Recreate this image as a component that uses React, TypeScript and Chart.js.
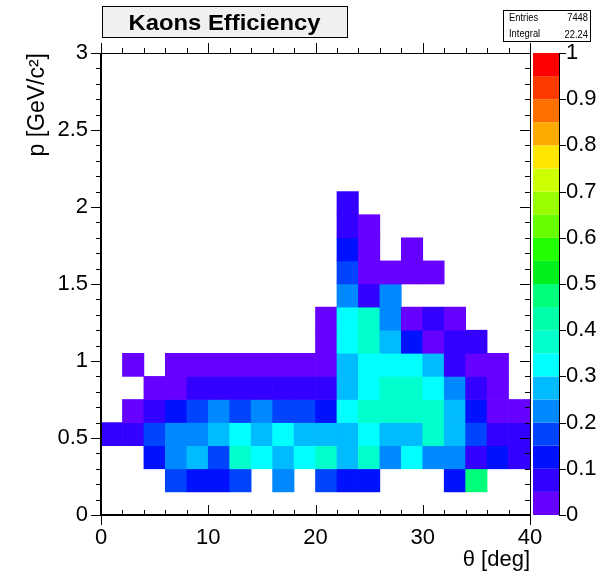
import React, { useEffect, useRef } from "react";
import { Chart, registerables } from "chart.js";
Chart.register(...registerables);

const _ = null;

// bin edges
const thetaEdges = [0, 2, 4, 6, 8, 10, 12, 14, 16, 18, 20, 22, 24, 26, 28, 30, 32, 34, 36, 38, 40];
const pEdges = [0, 0.15, 0.3, 0.45, 0.6, 0.75, 0.9, 1.05, 1.2, 1.35, 1.5, 1.65, 1.8, 1.95, 2.1, 2.25, 2.4, 2.55, 2.7, 2.85, 3.0];

// efficiency per θ bin (columns 0..38 deg), one array per p bin, bottom to top
const effP00 = [_, _, _, _, _, _, _, _, _, _, _, _, _, _, _, _, _, _, _, _];
const effP01 = [_, _, _, 0.17, 0.12, 0.12, 0.17, _, 0.22, _, 0.17, 0.12, 0.12, _, _, _, 0.12, 0.47, _, _];
const effP02 = [_, _, 0.12, 0.22, 0.27, 0.17, 0.37, 0.32, 0.27, 0.32, 0.37, 0.27, 0.37, 0.22, 0.32, 0.22, 0.22, 0.08, 0.12, 0.08];
const effP03 = [0.08, 0.08, 0.17, 0.22, 0.22, 0.27, 0.32, 0.27, 0.32, 0.27, 0.27, 0.27, 0.32, 0.27, 0.27, 0.37, 0.27, 0.17, 0.08, 0.08];
const effP04 = [_, 0.03, 0.08, 0.12, 0.17, 0.22, 0.17, 0.22, 0.17, 0.17, 0.12, 0.32, 0.37, 0.37, 0.37, 0.37, 0.27, 0.12, 0.03, 0.03];
const effP05 = [_, _, 0.03, 0.03, 0.08, 0.08, 0.08, 0.08, 0.08, 0.08, 0.08, 0.27, 0.32, 0.37, 0.37, 0.32, 0.22, 0.08, 0.03, _];
const effP06 = [_, 0.03, _, 0.03, 0.03, 0.03, 0.03, 0.03, 0.03, 0.03, 0.03, 0.27, 0.32, 0.32, 0.32, 0.27, 0.08, 0.03, 0.03, _];
const effP07 = [_, _, _, _, _, _, _, _, _, _, 0.03, 0.32, 0.37, 0.27, 0.12, 0.03, 0.08, 0.08, _, _];
const effP08 = [_, _, _, _, _, _, _, _, _, _, 0.03, 0.32, 0.37, 0.22, 0.03, 0.08, 0.03, _, _, _];
const effP09 = [_, _, _, _, _, _, _, _, _, _, _, 0.22, 0.08, 0.22, _, _, _, _, _, _];
const effP10 = [_, _, _, _, _, _, _, _, _, _, _, 0.17, 0.03, 0.03, 0.03, 0.03, _, _, _, _];
const effP11 = [_, _, _, _, _, _, _, _, _, _, _, 0.12, 0.03, _, 0.03, _, _, _, _, _];
const effP12 = [_, _, _, _, _, _, _, _, _, _, _, 0.08, 0.03, _, _, _, _, _, _, _];
const effP13 = [_, _, _, _, _, _, _, _, _, _, _, 0.08, _, _, _, _, _, _, _, _];
const effP14 = [_, _, _, _, _, _, _, _, _, _, _, _, _, _, _, _, _, _, _, _];
const effP15 = [_, _, _, _, _, _, _, _, _, _, _, _, _, _, _, _, _, _, _, _];
const effP16 = [_, _, _, _, _, _, _, _, _, _, _, _, _, _, _, _, _, _, _, _];
const effP17 = [_, _, _, _, _, _, _, _, _, _, _, _, _, _, _, _, _, _, _, _];
const effP18 = [_, _, _, _, _, _, _, _, _, _, _, _, _, _, _, _, _, _, _, _];
const effP19 = [_, _, _, _, _, _, _, _, _, _, _, _, _, _, _, _, _, _, _, _];
const effRows = [effP00, effP01, effP02, effP03, effP04, effP05, effP06, effP07, effP08, effP09,
  effP10, effP11, effP12, effP13, effP14, effP15, effP16, effP17, effP18, effP19];

// colour scale
const zLevels = [0, 0.05, 0.1, 0.15, 0.2, 0.25, 0.3, 0.35, 0.4, 0.45, 0.5, 0.55, 0.6, 0.65, 0.7, 0.75, 0.8, 0.85, 0.9, 0.95, 1];
const palette = [
  "#6600ff", "#3300ff", "#0011ff", "#0044ff", "#0088ff", "#00bbff", "#00ffff", "#00ffcc", "#00ffaa", "#00ff7a",
  "#00f01e", "#22ff00", "#66ff00", "#99ff00", "#ccff00", "#ffe600", "#ffaa00", "#ff7000", "#ff3a00", "#ff0000",
];

const statsLabels = ["Entries", "Integral"];
const statsValues = ["7448", "22.24"];
const titleText = "Kaons Efficiency";

function colorFor(v: number) {
  for (let i = 0; i < palette.length; i++) {
    if (v >= zLevels[i] && v < zLevels[i + 1]) return palette[i];
  }
  return palette[palette.length - 1];
}

const cells: { x: number; y: [number, number] }[] = [];
const cellColors: string[] = [];
effRows.forEach((row, r) => {
  row.forEach((v, c) => {
    if (v === null) return;
    cells.push({ x: (thetaEdges[c] + thetaEdges[c + 1]) / 2, y: [pEdges[r], pEdges[r + 1]] });
    cellColors.push(colorFor(v));
  });
});

const SANS = "'Liberation Sans', Arial, Helvetica, sans-serif";
const TICK_FONT = { family: SANS, size: 22 };
const TITLE_FONT = { family: SANS, size: 22 };

function drawText(ctx: CanvasRenderingContext2D, text: string, x: number, y: number, font: string, align: "left" | "right" | "center", sx: number) {
  ctx.save();
  ctx.font = font;
  ctx.textBaseline = "alphabetic";
  ctx.textAlign = align;
  ctx.translate(x, y);
  ctx.scale(sx, 1);
  ctx.fillText(text, 0, 0);
  ctx.restore();
}

function line(ctx: CanvasRenderingContext2D, x1: number, y1: number, x2: number, y2: number) {
  ctx.beginPath();
  ctx.moveTo(x1, y1);
  ctx.lineTo(x2, y2);
  ctx.stroke();
}

const decorPlugin = {
  id: "decor",
  beforeDraw(chart: any) {
    const { ctx, width, height } = chart;
    ctx.save();
    ctx.fillStyle = "#ffffff";
    ctx.fillRect(0, 0, width, height);
    ctx.restore();
  },
  afterDraw(chart: any) {
    const { ctx, chartArea: a } = chart;
    const xs = chart.scales.x;
    const ys = chart.scales.y;
    const cs = chart.scales.cb;
    ctx.save();
    ctx.strokeStyle = "#000";
    ctx.fillStyle = "#000";

    // colour bar
    const cbL = a.right + 3;
    const cbR = a.right + 29;
    for (let i = 0; i < palette.length; i++) {
      const yt = cs.getPixelForValue(zLevels[i + 1]);
      const yb = cs.getPixelForValue(zLevels[i]);
      ctx.fillStyle = palette[i];
      ctx.fillRect(cbL, yt, cbR - cbL, yb - yt);
    }
    ctx.lineWidth = 1;
    line(ctx, cbR + 0.5, cs.top, cbR + 0.5, cs.bottom);
    cs.ticks.forEach((t: any) => {
      const y = Math.round(cs.getPixelForValue(t.value)) + 0.5;
      line(ctx, cbR, y, cbR + 7, y);
    });

    // frame
    ctx.lineWidth = 1;
    line(ctx, a.left, a.top + 0.5, a.right, a.top + 0.5);
    line(ctx, a.right + 0.5, a.top, a.right + 0.5, a.bottom);
    ctx.lineWidth = 2;
    line(ctx, a.left, a.top, a.left, a.bottom + 1);
    line(ctx, a.left - 1, a.bottom, a.right + 1, a.bottom);

    // y ticks (left outside, right inside)
    ctx.lineWidth = 1;
    for (let k = 0; k <= 30; k++) {
      const v = k / 10;
      const y = Math.round(ys.getPixelForValue(v)) + 0.5;
      const len = k % 5 === 0 ? 10 : 5;
      line(ctx, a.left - len, y, a.left, y);
      line(ctx, a.right - len, y, a.right, y);
    }
    // x ticks (bottom inside, top outside)
    for (let k = 0; k <= 20; k++) {
      const v = k * 2;
      const x = Math.round(xs.getPixelForValue(v)) + 0.5;
      const len = k % 5 === 0 ? 10 : 5;
      line(ctx, x, a.bottom - len, x, a.bottom);
      line(ctx, x, a.top - len, x, a.top);
      if (k === 0 || k === 20) line(ctx, x, a.bottom, x, a.bottom + 10);
    }

    // title box
    ctx.fillStyle = "#f0f0f0";
    ctx.fillRect(102.5, 6.5, 245, 31);
    ctx.lineWidth = 1;
    ctx.strokeRect(102.5, 6.5, 245, 31);
    ctx.fillStyle = "#000";
    const tf = "bold 22px 'Liberation Sans', Arial, sans-serif";
    ctx.font = tf;
    const tw = ctx.measureText(titleText).width;
    drawText(ctx, titleText, 224.5, 29.5, tf, "center", 192 / tw);

    // stats box
    ctx.fillStyle = "#ffffff";
    ctx.fillRect(503.5, 10.5, 87, 31);
    ctx.strokeRect(503.5, 10.5, 87, 31);
    ctx.fillStyle = "#000";
    const sf = "11px 'Liberation Sans', Arial, sans-serif";
    statsLabels.forEach((lab, i) => {
      const by = i === 0 ? 20.5 : 37;
      drawText(ctx, lab, 509, by, sf, "left", 0.85);
      drawText(ctx, statsValues[i], 588, by + (i === 1 ? 1 : 0), sf, "right", 0.85);
    });

    ctx.restore();
  },
};

function fmt(v: number) {
  return String(Math.round(v * 100) / 100);
}

export default function App() {
  const ref = useRef<HTMLCanvasElement>(null);
  useEffect(() => {
    const canvas = ref.current;
    if (!canvas) return;
    const chart = new Chart(canvas, {
      type: "bar",
      data: {
        datasets: [
          {
            data: cells as any,
            backgroundColor: cellColors,
            borderWidth: 0,
            categoryPercentage: 1,
            barPercentage: 1,
          },
        ],
      },
      options: {
        animation: false,
        responsive: false,
        devicePixelRatio: 1,
        layout: { padding: { top: 53, left: 0, right: 0, bottom: 0 } },
        plugins: { legend: { display: false }, tooltip: { enabled: false }, title: { display: false } },
        scales: {
          x: {
            type: "linear",
            min: 0,
            max: 40,
            offset: false,
            border: { display: false },
            grid: { display: false, drawTicks: false },
            ticks: { stepSize: 10, color: "#000", font: TICK_FONT, padding: 10, maxRotation: 0, callback: (v: any) => fmt(Number(v)) },
            title: { display: true, text: "θ [deg]", align: "end", color: "#000", font: TITLE_FONT, padding: { top: 0, bottom: 3 } },
            afterFit: (s: any) => { s.height = 61; },
          },
          y: {
            type: "linear",
            min: 0,
            max: 3,
            border: { display: false },
            grid: { display: false, drawTicks: false },
            ticks: { stepSize: 0.5, color: "#000", font: TICK_FONT, padding: 13, callback: (v: any) => fmt(Number(v)) },
            title: { display: true, text: "p [GeV/c²]", align: "end", color: "#000", font: { family: SANS, size: 23 }, padding: { top: 24, bottom: 0 } },
            afterFit: (s: any) => { s.width = 101; },
          },
          cb: {
            type: "linear",
            position: "right",
            min: 0,
            max: 1,
            border: { display: false },
            grid: { display: false, drawTicks: false },
            ticks: { stepSize: 0.1, color: "#000", font: TICK_FONT, padding: 36, callback: (v: any) => fmt(Number(v)) },
            afterFit: (s: any) => { s.width = 84; },
          },
        },
      } as any,
      plugins: [decorPlugin],
    });
    return () => chart.destroy();
  }, []);
  return (
    <canvas
      ref={ref}
      width={614}
      height={576}
      style={{ position: "fixed", left: 0, top: 0, width: 614, height: 576, display: "block" }}
    />
  );
}
